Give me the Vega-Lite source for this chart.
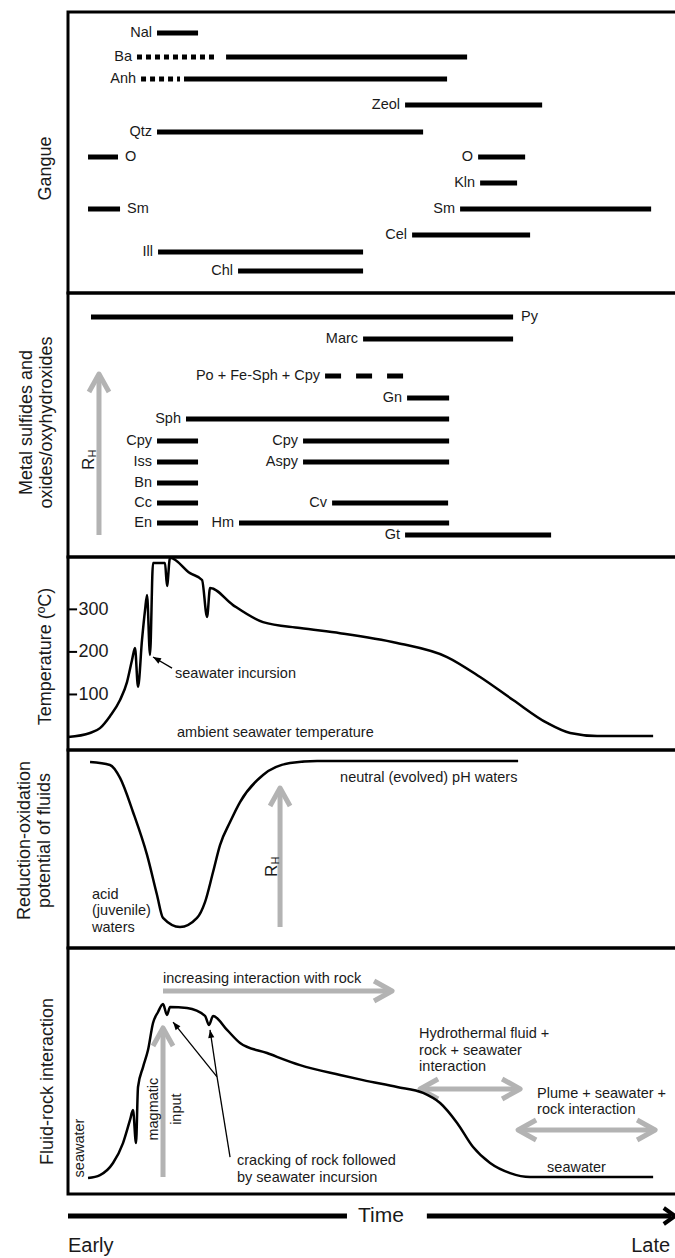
{
 "$schema": "https://vega.github.io/schema/vega-lite/v6.json",
 "autosize": {"type": "none"},
 "padding": {"left": 68, "top": 12, "right": 607, "bottom": 1246},
 "background": "white",
 "spacing": 0,
 "bounds": "flush",
 "config": {
  "view": {"stroke": "#000", "strokeWidth": 3},
  "font": "Liberation Sans",
  "text": {"font": "Liberation Sans", "fontSize": 14.5, "color": "#1a1a1a"},
  "axisY": {"labels": false, "ticks": false, "domain": false, "grid": false, "titleAngle": 270, "titleBaseline": "middle", "titleAlign": "center", "titleFont": "Liberation Sans", "titleFontSize": 18, "titleFontWeight": "normal", "titleColor": "#1a1a1a", "titleLineHeight": 20}
 },
 "datasets": {
  "gangue": [
   {"mineral": "Nal", "t": 14.71, "t2": 21.49, "v": 21, "kind": "solid", "label": "Nal", "side": "start"},
   {"mineral": "Ba", "t": 11.40, "t2": 24.63, "v": 45, "kind": "dotted", "label": "Ba", "side": "start"},
   {"mineral": "Ba", "t": 26.12, "t2": 65.95, "v": 45, "kind": "solid", "label": "", "side": "none"},
   {"mineral": "Anh", "t": 12.07, "t2": 18.51, "v": 67, "kind": "dotted", "label": "Anh", "side": "start"},
   {"mineral": "Anh", "t": 19.17, "t2": 62.64, "v": 67, "kind": "solid", "label": "", "side": "none"},
   {"mineral": "Zeol", "t": 55.70, "t2": 78.35, "v": 93, "kind": "solid", "label": "Zeol", "side": "start"},
   {"mineral": "Qtz", "t": 14.71, "t2": 58.68, "v": 120, "kind": "solid", "label": "Qtz", "side": "start"},
   {"mineral": "O", "t": 3.31, "t2": 8.26, "v": 145, "kind": "solid", "label": "O", "side": "end"},
   {"mineral": "O", "t": 67.77, "t2": 75.54, "v": 145, "kind": "solid", "label": "O", "side": "start"},
   {"mineral": "Kln", "t": 68.10, "t2": 74.21, "v": 171, "kind": "solid", "label": "Kln", "side": "start"},
   {"mineral": "Sm", "t": 3.31, "t2": 8.60, "v": 197, "kind": "solid", "label": "Sm", "side": "end"},
   {"mineral": "Sm", "t": 64.79, "t2": 96.36, "v": 197, "kind": "solid", "label": "Sm", "side": "start"},
   {"mineral": "Cel", "t": 56.86, "t2": 76.36, "v": 223, "kind": "solid", "label": "Cel", "side": "start"},
   {"mineral": "Ill", "t": 14.88, "t2": 48.76, "v": 240, "kind": "solid", "label": "Ill", "side": "start"},
   {"mineral": "Chl", "t": 28.10, "t2": 48.76, "v": 259, "kind": "solid", "label": "Chl", "side": "start"}
  ],
  "metal": [
   {"mineral": "Py", "t": 3.80, "t2": 73.55, "v": 24, "kind": "solid", "label": "Py", "side": "end"},
   {"mineral": "Marc", "t": 48.76, "t2": 73.55, "v": 46, "kind": "solid", "label": "Marc", "side": "start"},
   {"mineral": "Po + Fe-Sph + Cpy", "t": 42.48, "t2": 55.37, "v": 83, "kind": "dashed", "label": "Po + Fe-Sph + Cpy", "side": "start"},
   {"mineral": "Gn", "t": 56.03, "t2": 62.98, "v": 105, "kind": "solid", "label": "Gn", "side": "start"},
   {"mineral": "Sph", "t": 19.50, "t2": 62.98, "v": 126, "kind": "solid", "label": "Sph", "side": "start"},
   {"mineral": "Cpy", "t": 14.71, "t2": 21.49, "v": 148, "kind": "solid", "label": "Cpy", "side": "start"},
   {"mineral": "Cpy", "t": 38.84, "t2": 62.98, "v": 148, "kind": "solid", "label": "Cpy", "side": "start"},
   {"mineral": "Iss", "t": 14.71, "t2": 21.49, "v": 169, "kind": "solid", "label": "Iss", "side": "start"},
   {"mineral": "Aspy", "t": 38.84, "t2": 62.98, "v": 169, "kind": "solid", "label": "Aspy", "side": "start"},
   {"mineral": "Bn", "t": 14.71, "t2": 21.49, "v": 190, "kind": "solid", "label": "Bn", "side": "start"},
   {"mineral": "Cc", "t": 14.71, "t2": 21.49, "v": 210, "kind": "solid", "label": "Cc", "side": "start"},
   {"mineral": "Cv", "t": 43.64, "t2": 62.81, "v": 210, "kind": "solid", "label": "Cv", "side": "start"},
   {"mineral": "En", "t": 14.71, "t2": 21.49, "v": 230, "kind": "solid", "label": "En", "side": "start"},
   {"mineral": "Hm", "t": 28.26, "t2": 62.98, "v": 230, "kind": "solid", "label": "Hm", "side": "start"},
   {"mineral": "Gt", "t": 55.70, "t2": 79.83, "v": 242, "kind": "solid", "label": "Gt", "side": "start"}
  ],
  "metal_gray": [{"t": 5.12, "v": 242, "t2": 5.12, "v2": 81, "head": "up"}],
  "metal_rh": [{"t": 4.30, "v": 177, "main": "R", "sub": "H"}],
  "temp": [
   {"t": 0, "v": 0}, {"t": 3.64, "v": 9.4}, {"t": 5.29, "v": 21}, {"t": 6.94, "v": 49}, {"t": 8.60, "v": 87},
   {"t": 9.75, "v": 129}, {"t": 10.58, "v": 181}, {"t": 11.07, "v": 209}, {"t": 11.57, "v": 118}, {"t": 12.23, "v": 228},
   {"t": 12.73, "v": 298}, {"t": 13.06, "v": 334}, {"t": 13.55, "v": 193}, {"t": 14.05, "v": 409}, {"t": 16.03, "v": 409},
   {"t": 16.36, "v": 355}, {"t": 16.86, "v": 421}, {"t": 20.17, "v": 385}, {"t": 22.15, "v": 369}, {"t": 22.98, "v": 282},
   {"t": 23.47, "v": 350}, {"t": 27.27, "v": 310}, {"t": 32.23, "v": 270}, {"t": 38.35, "v": 256}, {"t": 44.96, "v": 244},
   {"t": 54.38, "v": 221}, {"t": 62.64, "v": 188}, {"t": 68.10, "v": 141}, {"t": 73.55, "v": 87}, {"t": 79.17, "v": 33},
   {"t": 82.98, "v": 9.4}, {"t": 87.44, "v": 2.4}, {"t": 96.69, "v": 2.4}
  ],
  "temp_ticks": [
   {"t": 0, "t2": 1.5, "v": 100},
   {"t": 0, "t2": 1.5, "v": 200},
   {"t": 0, "t2": 1.5, "v": 300}
  ],
  "temp_notes": [
   {"t": 17.69, "v": 148, "label": "seawater incursion"},
   {"t": 18.02, "v": 9.4, "label": "ambient seawater temperature"}
  ],
  "temp_black": [{"id": "a0", "t": 17.19, "v": 162, "t2": 14.05, "v2": 188}],
  "redox": [
   {"t": 3.64, "v": 93.9}, {"t": 6.94, "v": 92.4}, {"t": 8.60, "v": 85.9}, {"t": 10.74, "v": 68.7}, {"t": 13.06, "v": 47.0},
   {"t": 14.71, "v": 26.8}, {"t": 15.70, "v": 15.2}, {"t": 18.51, "v": 10.6}, {"t": 21.32, "v": 15.2}, {"t": 22.64, "v": 23.2},
   {"t": 23.97, "v": 38.4}, {"t": 25.12, "v": 52.0}, {"t": 26.78, "v": 63.6}, {"t": 28.43, "v": 73.7}, {"t": 32.23, "v": 87.4},
   {"t": 36.69, "v": 93.4}, {"t": 41.16, "v": 94.4}, {"t": 74.38, "v": 94.4}
  ],
  "redox_notes": [
   {"t": 3.97, "v": 26.8, "label": "acid\n(juvenile)\nwaters"},
   {"t": 44.96, "v": 85.9, "label": "neutral (evolved) pH waters"}
  ],
  "redox_gray": [{"t": 35.04, "v": 10.6, "t2": 35.04, "v2": 80.8, "head": "up"}],
  "redox_rh": [{"t": 34.55, "v": 35.9, "main": "R", "sub": "H"}],
  "fluid": [
   {"t": 3.31, "v": 6.5}, {"t": 5.29, "v": 7.7}, {"t": 7.44, "v": 12.6}, {"t": 9.09, "v": 20.7}, {"t": 10.25, "v": 30.1},
   {"t": 10.74, "v": 34.1}, {"t": 11.24, "v": 20.7}, {"t": 11.57, "v": 43.5}, {"t": 12.40, "v": 51.6}, {"t": 13.22, "v": 58.5},
   {"t": 14.05, "v": 69.5}, {"t": 14.88, "v": 74.0}, {"t": 15.70, "v": 77.2}, {"t": 16.36, "v": 72.8}, {"t": 16.86, "v": 76.0},
   {"t": 19.67, "v": 75.6}, {"t": 22.64, "v": 72.4}, {"t": 23.31, "v": 68.7}, {"t": 23.97, "v": 72.4}, {"t": 26.28, "v": 66.7},
   {"t": 28.43, "v": 61.4}, {"t": 32.89, "v": 57.3}, {"t": 38.35, "v": 52.4}, {"t": 44.96, "v": 48.4}, {"t": 48.76, "v": 46.3},
   {"t": 54.38, "v": 43.5}, {"t": 58.68, "v": 41.1}, {"t": 61.49, "v": 37.0}, {"t": 64.30, "v": 28.9}, {"t": 66.94, "v": 19.1},
   {"t": 69.75, "v": 12.6}, {"t": 73.06, "v": 8.5}, {"t": 76.36, "v": 6.9}, {"t": 96.69, "v": 6.9}
  ],
  "fluid_notes": [
   {"t": 15.70, "v": 87.4, "label": "increasing interaction with rock", "orient": "h"},
   {"t": 27.93, "v": 13.4, "label": "cracking of rock followed\nby seawater incursion", "orient": "h"},
   {"t": 58.02, "v": 65.0, "label": "Hydrothermal fluid +\nrock + seawater\ninteraction", "orient": "h"},
   {"t": 77.52, "v": 40.7, "label": "Plume + seawater +\nrock interaction", "orient": "h"},
   {"t": 79.17, "v": 10.6, "label": "seawater", "orient": "h"},
   {"t": 1.98, "v": 18.7, "label": "seawater", "orient": "v"},
   {"t": 14.21, "v": 34.5, "label": "magmatic\ninput", "orient": "v"}
  ],
  "fluid_gray": [
   {"t": 15.70, "v": 82.5, "t2": 53.55, "v2": 82.5, "head": "right"},
   {"t": 15.70, "v": 6.9, "t2": 15.70, "v2": 67.5, "head": "up"},
   {"t": 58.18, "v": 42.7, "t2": 74.71, "v2": 42.7, "head": "both"},
   {"t": 74.38, "v": 26.0, "t2": 97.02, "v2": 26.0, "head": "both"}
  ],
  "fluid_black": [
   {"id": "stem", "t": 26.78, "v": 15.0, "t2": 24.63, "v2": 47.6},
   {"id": "a1", "t": 24.63, "v": 47.6, "t2": 17.36, "v2": 69.9},
   {"id": "a2", "t": 24.63, "v": 47.6, "t2": 23.47, "v2": 66.7}
  ],
  "time_line": [
   {"t": 0, "t2": 46.1, "v": 22},
   {"t": 59.3, "t2": 99.7, "v": 22}
  ],
  "time_head": [{"t": 100.3, "v": 22}],
  "time_text": [
   {"t": 51.7, "v": 22, "label": "Time"},
   {"t": 0, "v": 52, "label": "Early"},
   {"t": 99.5, "v": 52, "label": "Late"}
  ]
 },
 "vconcat": [
  {
   "width": 610, "height": 281,
   "encoding": {
    "x": {"field": "t", "type": "quantitative", "scale": {"domain": [0, 100.8], "nice": false, "zero": false}, "axis": null},
    "y": {"field": "v", "type": "quantitative", "scale": {"domain": [0, 281], "nice": false, "zero": false, "reverse": true}, "axis": {"title": "Gangue", "titleX": -23, "titleY": 156}}
   },
   "layer": [
    {"data": {"name": "gangue"}, "transform": [{"filter": "datum.kind === 'solid'"}], "mark": {"type": "rule", "color": "#000", "strokeWidth": 5, "strokeCap": "butt"}, "encoding": {"x2": {"field": "t2"}}},
    {"data": {"name": "gangue"}, "transform": [{"filter": "datum.kind === 'dotted'"}], "mark": {"type": "rule", "color": "#000", "strokeWidth": 5, "strokeCap": "butt", "strokeDash": [5, 4]}, "encoding": {"x2": {"field": "t2"}}},
    {"data": {"name": "gangue"}, "transform": [{"filter": "datum.side === 'start'"}], "mark": {"type": "text", "align": "right", "baseline": "middle", "dx": -5}, "encoding": {"text": {"field": "label"}}},
    {"data": {"name": "gangue"}, "transform": [{"filter": "datum.side === 'end'"}], "mark": {"type": "text", "align": "left", "baseline": "middle", "dx": 7}, "encoding": {"x": {"field": "t2", "type": "quantitative"}, "text": {"field": "label"}}}
   ]
  },
  {
   "width": 610, "height": 264,
   "encoding": {
    "x": {"field": "t", "type": "quantitative", "scale": {"domain": [0, 100.8], "nice": false, "zero": false}, "axis": null},
    "y": {"field": "v", "type": "quantitative", "scale": {"domain": [0, 264], "nice": false, "zero": false, "reverse": true}, "axis": {"title": ["Metal sulfides and", "oxides/oxyhydroxides"], "titleX": -42, "titleY": 129}}
   },
   "layer": [
    {"data": {"name": "metal_gray"}, "mark": {"type": "rule", "color": "#b3b3b3", "strokeWidth": 5}, "encoding": {"x2": {"field": "t2"}, "y2": {"field": "v2"}}},
    {"data": {"name": "metal_gray"}, "mark": {"type": "point", "shape": "M-1,1.8L0,0L1,1.8", "size": 400, "filled": false, "stroke": "#b3b3b3", "color": "#b3b3b3", "strokeWidth": 5, "opacity": 1, "strokeJoin": "round"}, "encoding": {"x": {"field": "t2", "type": "quantitative"}, "y": {"field": "v2", "type": "quantitative"}}},
    {"data": {"name": "metal_rh"}, "mark": {"type": "text", "angle": 270, "align": "left", "baseline": "alphabetic", "fontSize": 17}, "encoding": {"text": {"field": "main"}}},
    {"data": {"name": "metal_rh"}, "mark": {"type": "text", "angle": 270, "align": "left", "baseline": "alphabetic", "fontSize": 11, "dx": 12.5, "dy": 2}, "encoding": {"text": {"field": "sub"}}},
    {"data": {"name": "metal"}, "transform": [{"filter": "datum.kind === 'solid'"}], "mark": {"type": "rule", "color": "#000", "strokeWidth": 5, "strokeCap": "butt"}, "encoding": {"x2": {"field": "t2"}}},
    {"data": {"name": "metal"}, "transform": [{"filter": "datum.kind === 'dashed'"}], "mark": {"type": "rule", "color": "#000", "strokeWidth": 5, "strokeCap": "butt", "strokeDash": [16, 15]}, "encoding": {"x2": {"field": "t2"}}},
    {"data": {"name": "metal"}, "transform": [{"filter": "datum.side === 'start'"}], "mark": {"type": "text", "align": "right", "baseline": "middle", "dx": -5}, "encoding": {"text": {"field": "label"}}},
    {"data": {"name": "metal"}, "transform": [{"filter": "datum.side === 'end'"}], "mark": {"type": "text", "align": "left", "baseline": "middle", "dx": 8}, "encoding": {"x": {"field": "t2", "type": "quantitative"}, "text": {"field": "label"}}}
   ]
  },
  {
   "width": 610, "height": 193,
   "encoding": {
    "x": {"field": "t", "type": "quantitative", "scale": {"domain": [0, 100.8], "nice": false, "zero": false}, "axis": null},
    "y": {"field": "v", "type": "quantitative", "scale": {"domain": [-30.5, 423], "nice": false, "zero": false}, "axis": {"title": "Temperature (ºC)", "titleX": -23, "titleY": 99, "values": [100, 200, 300], "labels": true, "ticks": false, "labelPadding": -10, "labelAlign": "left", "labelBaseline": "middle", "labelFontSize": 18, "labelFont": "Liberation Sans", "labelColor": "#1a1a1a"}}
   },
   "layer": [
    {"data": {"name": "temp_ticks"}, "mark": {"type": "rule", "color": "#000", "strokeWidth": 2}, "encoding": {"x2": {"field": "t2"}}},
    {"data": {"name": "temp"}, "mark": {"type": "line", "color": "#000", "strokeWidth": 2.5, "interpolate": "monotone"}, "encoding": {}},
    {"data": {"name": "temp_notes"}, "mark": {"type": "text", "align": "left", "baseline": "middle"}, "encoding": {"text": {"field": "label"}}},
    {"data": {"name": "temp_black"}, "mark": {"type": "rule", "color": "#000", "strokeWidth": 1.3}, "encoding": {"x2": {"field": "t2"}, "y2": {"field": "v2"}}},
    {"data": {"name": "temp_black"}, "mark": {"type": "point", "shape": "M0,0L-0.7,1.8L0.7,1.8Z", "size": 78, "filled": true, "color": "#000", "opacity": 1, "angle": 300}, "encoding": {"x": {"field": "t2", "type": "quantitative"}, "y": {"field": "v2", "type": "quantitative"}}}
   ]
  },
  {
   "width": 610, "height": 198,
   "encoding": {
    "x": {"field": "t", "type": "quantitative", "scale": {"domain": [0, 100.8], "nice": false, "zero": false}, "axis": null},
    "y": {"field": "v", "type": "quantitative", "scale": {"domain": [0, 100], "nice": false, "zero": false}, "axis": {"title": ["Reduction-oxidation", "potential of fluids"], "titleX": -44, "titleY": 90}}
   },
   "layer": [
    {"data": {"name": "redox_gray"}, "mark": {"type": "rule", "color": "#b3b3b3", "strokeWidth": 5}, "encoding": {"x2": {"field": "t2"}, "y2": {"field": "v2"}}},
    {"data": {"name": "redox_gray"}, "mark": {"type": "point", "shape": "M-1,1.8L0,0L1,1.8", "size": 400, "filled": false, "stroke": "#b3b3b3", "color": "#b3b3b3", "strokeWidth": 5, "opacity": 1, "strokeJoin": "round"}, "encoding": {"x": {"field": "t2", "type": "quantitative"}, "y": {"field": "v2", "type": "quantitative"}}},
    {"data": {"name": "redox_rh"}, "mark": {"type": "text", "angle": 270, "align": "left", "baseline": "alphabetic", "fontSize": 17}, "encoding": {"text": {"field": "main"}}},
    {"data": {"name": "redox_rh"}, "mark": {"type": "text", "angle": 270, "align": "left", "baseline": "alphabetic", "fontSize": 11, "dx": 12.5, "dy": 2}, "encoding": {"text": {"field": "sub"}}},
    {"data": {"name": "redox"}, "mark": {"type": "line", "color": "#000", "strokeWidth": 2.5, "interpolate": "monotone"}, "encoding": {}},
    {"data": {"name": "redox_notes"}, "mark": {"type": "text", "align": "left", "baseline": "middle", "lineBreak": "\n", "lineHeight": 16.5}, "encoding": {"text": {"field": "label"}}}
   ]
  },
  {
   "width": 610, "height": 246,
   "encoding": {
    "x": {"field": "t", "type": "quantitative", "scale": {"domain": [0, 100.8], "nice": false, "zero": false}, "axis": null},
    "y": {"field": "v", "type": "quantitative", "scale": {"domain": [0, 100], "nice": false, "zero": false}, "axis": {"title": "Fluid-rock interaction", "titleX": -21, "titleY": 133}}
   },
   "layer": [
    {"data": {"name": "fluid_gray"}, "mark": {"type": "rule", "color": "#b3b3b3", "strokeWidth": 5}, "encoding": {"x2": {"field": "t2"}, "y2": {"field": "v2"}}},
    {"data": {"name": "fluid_gray"}, "transform": [{"filter": "datum.head === 'up'"}], "mark": {"type": "point", "shape": "M-1,1.8L0,0L1,1.8", "size": 400, "filled": false, "stroke": "#b3b3b3", "color": "#b3b3b3", "strokeWidth": 5, "opacity": 1, "strokeJoin": "round"}, "encoding": {"x": {"field": "t2", "type": "quantitative"}, "y": {"field": "v2", "type": "quantitative"}}},
    {"data": {"name": "fluid_gray"}, "transform": [{"filter": "datum.head === 'right' || datum.head === 'both'"}], "mark": {"type": "point", "shape": "M-1.8,-1L0,0L-1.8,1", "size": 400, "filled": false, "stroke": "#b3b3b3", "color": "#b3b3b3", "strokeWidth": 5, "opacity": 1, "strokeJoin": "round"}, "encoding": {"x": {"field": "t2", "type": "quantitative"}, "y": {"field": "v2", "type": "quantitative"}}},
    {"data": {"name": "fluid_gray"}, "transform": [{"filter": "datum.head === 'both'"}], "mark": {"type": "point", "shape": "M1.8,-1L0,0L1.8,1", "size": 400, "filled": false, "stroke": "#b3b3b3", "color": "#b3b3b3", "strokeWidth": 5, "opacity": 1, "strokeJoin": "round"}, "encoding": {}},
    {"data": {"name": "fluid"}, "mark": {"type": "line", "color": "#000", "strokeWidth": 2.5, "interpolate": "monotone"}, "encoding": {}},
    {"data": {"name": "fluid_black"}, "mark": {"type": "rule", "color": "#000", "strokeWidth": 1.3}, "encoding": {"x2": {"field": "t2"}, "y2": {"field": "v2"}}},
    {"data": {"name": "fluid_black"}, "transform": [{"filter": "datum.id === 'a1'"}], "mark": {"type": "point", "shape": "M0,0L-0.7,1.8L0.7,1.8Z", "size": 78, "filled": true, "color": "#000", "opacity": 1, "angle": 321}, "encoding": {"x": {"field": "t2", "type": "quantitative"}, "y": {"field": "v2", "type": "quantitative"}}},
    {"data": {"name": "fluid_black"}, "transform": [{"filter": "datum.id === 'a2'"}], "mark": {"type": "point", "shape": "M0,0L-0.7,1.8L0.7,1.8Z", "size": 78, "filled": true, "color": "#000", "opacity": 1, "angle": 351}, "encoding": {"x": {"field": "t2", "type": "quantitative"}, "y": {"field": "v2", "type": "quantitative"}}},
    {"data": {"name": "fluid_notes"}, "transform": [{"filter": "datum.orient === 'h'"}], "mark": {"type": "text", "align": "left", "baseline": "middle", "lineBreak": "\n", "lineHeight": 16.5}, "encoding": {"text": {"field": "label"}}},
    {"data": {"name": "fluid_notes"}, "transform": [{"filter": "datum.orient === 'v'"}], "mark": {"type": "text", "align": "center", "baseline": "middle", "angle": 270, "lineBreak": "\n", "lineHeight": 23}, "encoding": {"text": {"field": "label"}}}
   ]
  },
  {
   "width": 610, "height": 64,
   "view": {"stroke": null},
   "encoding": {
    "x": {"field": "t", "type": "quantitative", "scale": {"domain": [0, 100.8], "nice": false, "zero": false}, "axis": null},
    "y": {"field": "v", "type": "quantitative", "scale": {"domain": [0, 64], "nice": false, "zero": false, "reverse": true}, "axis": null}
   },
   "layer": [
    {"data": {"name": "time_line"}, "mark": {"type": "rule", "color": "#000", "strokeWidth": 5}, "encoding": {"x2": {"field": "t2"}}},
    {"data": {"name": "time_head"}, "mark": {"type": "point", "shape": "M-1.4,-1L0,0L-1.4,1", "size": 256, "filled": false, "stroke": "#000", "color": "#000", "strokeWidth": 4, "opacity": 1}, "encoding": {}},
    {"data": {"name": "time_text"}, "transform": [{"filter": "datum.label === 'Time'"}], "mark": {"type": "text", "align": "center", "baseline": "middle", "fontSize": 21}, "encoding": {"text": {"field": "label"}}},
    {"data": {"name": "time_text"}, "transform": [{"filter": "datum.label === 'Early'"}], "mark": {"type": "text", "align": "left", "baseline": "middle", "fontSize": 20}, "encoding": {"text": {"field": "label"}}},
    {"data": {"name": "time_text"}, "transform": [{"filter": "datum.label === 'Late'"}], "mark": {"type": "text", "align": "right", "baseline": "middle", "fontSize": 20}, "encoding": {"text": {"field": "label"}}}
   ]
  }
 ]
}
